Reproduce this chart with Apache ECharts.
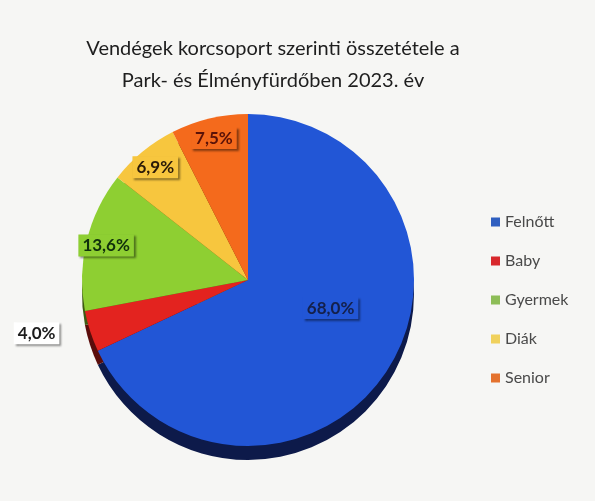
<!DOCTYPE html>
<html>
<head>
<meta charset="utf-8">
<script src="https://cdn.jsdelivr.net/npm/echarts@6/dist/echarts.min.js"></script>
<style>
  html, body { margin: 0; padding: 0; background: #f6f6f4; }
  #chart { width: 595px; height: 501px; }
</style>
</head>
<body>
<div id="chart"></div>
<script>
// adatok
const categories = ['Felnőtt', 'Baby', 'Gyermek', 'Diák', 'Senior']
const shares = [68.0, 4.0, 13.6, 6.9, 7.5]
const colors = ['#2256d6', '#e3231f', '#8ecf32', '#f7c63e', '#f46a1c']
const sideColors = ['#0d1a4a', '#5a0d0b', '#3d5a12', '#6b5314', '#6a2a0a']
const legendColors = ['#2f5fc0', '#d8282c', '#8dbd57', '#f0d15c', '#e4722e']

const fmt = (v) => v.toFixed(1).replace('.', ',') + '%'

const center = [248, 280]
const radius = 166

const chartInstance = echarts.init(document.getElementById('chart'))

const labelBase = {
  fontFamily: 'Lato',
  fontWeight: 'bold',
  fontSize: 17,
  color: '#1c1c1c',
  padding: [3, 4, 2, 4],
  shadowColor: 'rgba(0,0,0,0.45)',
  shadowOffsetX: 2,
  shadowOffsetY: 2,
  shadowBlur: 2,
}

// fő szeletek
const mainData = categories.map((name, i) => {
  const item = {
    name,
    value: shares[i],
    itemStyle: { color: colors[i] },
    label: { show: false },
  }
  if (i === 0) {
    item.label = {
      show: true,
      position: 'inside',
      ...labelBase,
      color: '#14204a',
      backgroundColor: colors[i],
      offset: [10, -18],
      formatter: (p) => fmt(p.value),
    }
  }
  if (i === 1) {
    item.label = {
      show: true,
      position: 'outside',
      ...labelBase,
      backgroundColor: '#ffffff',
      formatter: (p) => fmt(p.value),
    }
    item.labelLine = { show: false, length: 6, length2: 20 }
  }
  return item
})

// felső, szélhez közeli címkék (átlátszó réteg)
const labelData = categories.map((name, i) => ({
  name,
  value: shares[i],
  itemStyle: { color: 'transparent' },
  label: {
    show: i >= 2,
    position: 'inside',
    ...labelBase,
    color: i === 2 ? '#10300c' : i === 4 ? '#5a1208' : '#2a1a08',
    backgroundColor: colors[i],
    formatter: (p) => fmt(p.value),
  },
}))

const option = {
  backgroundColor: '#f6f6f4',
  title: {
    text: 'Vendégek korcsoport szerinti összetétele a\nPark- és Élményfürdőben 2023. év',
    left: 268,
    textAlign: 'center',
    top: 28,
    textStyle: {
      fontFamily: 'Lato',
      fontWeight: 'normal',
      fontSize: 20,
      lineHeight: 32,
      color: '#1e1e1e',
    },
  },
  legend: {
    orient: 'vertical',
    left: 486,
    top: 209,
    itemWidth: 9,
    itemHeight: 9,
    itemGap: 23,
    icon: 'rect',
    textStyle: { fontFamily: 'Lato', fontSize: 16, color: '#4a4a4a' },
    data: categories.map((name, i) => ({ name, itemStyle: { color: legendColors[i] } })),
  },
  series: [
    {
      // oldalfal (3D hatás)
      type: 'pie',
      center: [center[0], center[1] + 14],
      radius: radius,
      silent: true,
      startAngle: 90,
      label: { show: false },
      labelLine: { show: false },
      itemStyle: { borderWidth: 0 },
      data: categories.map((name, i) => ({
        name: name + ' ',
        value: shares[i],
        itemStyle: { color: sideColors[i] },
      })),
      z: 1,
    },
    {
      type: 'pie',
      center: center,
      radius: radius,
      startAngle: 90,
      silent: true,
      avoidLabelOverlap: false,
      itemStyle: { borderWidth: 0 },
      data: mainData,
      z: 2,
    },
    {
      type: 'pie',
      center: center,
      radius: [radius - 46, radius],
      startAngle: 90,
      silent: true,
      avoidLabelOverlap: false,
      labelLine: { show: false },
      data: labelData,
      z: 3,
    },
  ],
}

chartInstance.setOption(option)
</script>
</body>
</html>
